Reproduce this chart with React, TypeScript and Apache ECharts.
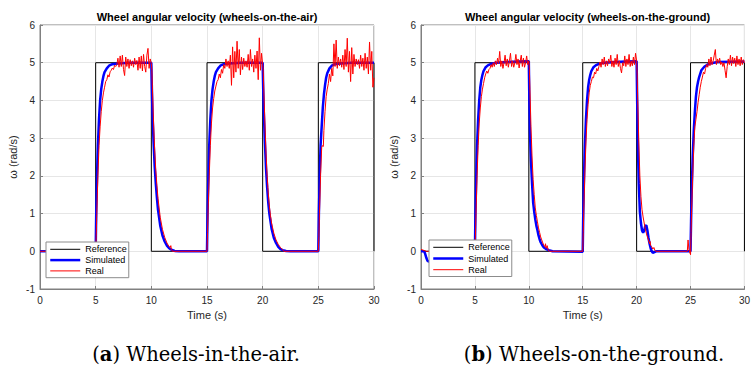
import React, { useEffect, useRef } from "react";
import * as echarts from "echarts";

// ---------- DATA ----------
const STEP = 0.1; // sampling step (s) of the noisy plateau arrays

// Reference square wave (same for both experiments)
const referenceT = [0, 5, 5, 10, 10, 15, 15, 20, 20, 25, 25, 30, 30];
const referenceV = [0, 0, 5, 5, 0, 0, 5, 5, 0, 0, 5, 5, 0];

// ---- (a) wheels-in-the-air ----
const airSim: [number, number][] = [
  [0, 0], [5, 0], [5.05, 1.0], [5.1, 1.7], [5.15, 2.3], [5.2, 2.8], [5.3, 3.5], [5.4, 4.0], [5.5, 4.3], [5.6, 4.5], [5.7, 4.65], [5.8, 4.75], [6.0, 4.85], [6.2, 4.92], [6.5, 4.96], [7.0, 4.98], [8.0, 5.0], [10, 5.0],
  [10.05, 4.3], [10.1, 3.7], [10.2, 2.9], [10.3, 2.25], [10.4, 1.8], [10.5, 1.42], [10.6, 1.1], [10.8, 0.68], [11.0, 0.42], [11.2, 0.26], [11.4, 0.15], [11.6, 0.08], [11.8, 0.04], [12.1, 0.01], [12.5, 0], [15, 0],
  [15.05, 1.0], [15.1, 1.7], [15.15, 2.3], [15.2, 2.8], [15.3, 3.5], [15.4, 4.0], [15.5, 4.3], [15.6, 4.5], [15.7, 4.65], [15.8, 4.75], [16.0, 4.85], [16.2, 4.92], [16.5, 4.96], [17.0, 4.98], [18.0, 5.0], [20, 5.0],
  [20.05, 4.3], [20.1, 3.7], [20.2, 2.9], [20.3, 2.2], [20.4, 1.7], [20.5, 1.3], [20.6, 1.0], [20.8, 0.6], [21.0, 0.36], [21.2, 0.22], [21.4, 0.12], [21.6, 0.06], [21.8, 0.03], [22.1, 0.01], [22.5, 0], [25, 0],
  [25.05, 1.0], [25.1, 1.7], [25.15, 2.3], [25.2, 2.8], [25.3, 3.3], [25.4, 3.8], [25.5, 4.15], [25.6, 4.4], [25.7, 4.6], [25.8, 4.72], [26.0, 4.85], [26.2, 4.92], [26.5, 4.96], [27.0, 4.98], [28.0, 5.0], [30, 5.0],
];

const airRealRise1: [number, number][] = [
  [0, 0], [5, 0], [5.05, 0.4], [5.1, 1.0], [5.2, 2.0], [5.3, 2.8], [5.4, 3.3], [5.5, 3.7], [5.6, 4.0], [5.7, 4.2], [5.8, 4.35], [5.9, 4.5], [6.0, 4.55], [6.1, 4.68], [6.2, 4.62], [6.3, 4.76], [6.4, 4.8], [6.5, 4.86], [6.6, 4.82], [6.7, 4.93], [6.8, 4.9],
];
const airNoise1Start = 6.9;
const airNoise1 = [
  4.95, 5.12, 4.88, 5.18, 4.9, 5.2, 4.82, 4.66, 5.15, 4.9,
  5.1, 4.85, 5.08, 4.92, 5.05, 4.88, 5.12, 4.95, 5.06, 4.8,
  5.15, 4.85, 5.18, 4.78, 5.22, 4.9, 4.75, 5.2, 5.38, 4.85,
  5.1, 4.98,
];
const airRealFall1: [number, number][] = [
  [10.05, 4.8], [10.1, 4.3], [10.2, 3.4], [10.3, 2.7], [10.4, 2.15], [10.5, 1.75], [10.6, 1.4], [10.8, 0.9], [11.0, 0.58], [11.2, 0.37], [11.4, 0.22], [11.6, 0.12], [11.7, 0.1], [11.75, 0.15], [11.8, 0.05], [11.9, 0], [15, 0],
];
const airRealRise2: [number, number][] = [
  [15.05, 0.5], [15.1, 1.1], [15.2, 2.0], [15.3, 2.8], [15.4, 3.4], [15.5, 3.8], [15.6, 4.05], [15.7, 4.25], [15.8, 4.38], [15.9, 4.5],
];
const airNoise2Start = 16.0;
const airNoise2 = [
  4.55, 4.7, 4.6, 4.82, 4.72, 4.95, 4.85, 5.1, 4.9, 5.05,
  4.85, 5.2, 4.4, 5.42, 4.6, 5.3, 4.75, 5.57, 4.85, 5.35,
  4.68, 5.15, 4.82, 5.12, 4.9, 5.05, 4.88, 5.22, 4.8, 5.35,
  4.9, 5.1, 4.75, 5.2, 4.85, 5.31, 4.55, 5.66, 4.8, 5.25,
  4.95,
];
const airRealFall2: [number, number][] = [
  [20.05, 4.8], [20.1, 4.3], [20.2, 3.4], [20.3, 2.6], [20.4, 2.0], [20.5, 1.55], [20.6, 1.2], [20.7, 0.95], [20.8, 0.75], [21.0, 0.48], [21.2, 0.3], [21.4, 0.18], [21.6, 0.1], [21.8, 0.04], [21.9, 0], [25, 0],
];
const airRealRise3: [number, number][] = [
  [25.05, 0.4], [25.1, 1.0], [25.2, 2.0], [25.3, 2.75], [25.35, 2.8], [25.45, 2.78], [25.5, 3.2], [25.6, 3.7], [25.7, 4.1], [25.8, 4.3],
];
const airNoise3Start = 25.9;
const airNoise3 = [
  4.45, 4.7, 4.5, 4.85, 4.65, 5.5, 4.9, 5.6, 4.85, 5.15,
  4.92, 5.1, 4.88, 5.2, 4.82, 5.35, 4.9, 5.65, 4.75, 5.3,
  4.5, 5.4, 4.7, 5.22, 4.9, 5.1, 4.95, 5.08, 4.85, 5.2,
  4.9, 5.12, 4.8, 5.25, 4.85, 5.15, 4.7, 5.55, 4.8, 5.3,
  4.35, 4.6,
];

// ---- (b) wheels-on-the-ground ----
const groundSim: [number, number][] = [
  [0, 0], [0.3, 0], [0.4, -0.08], [0.5, -0.18], [0.6, -0.25], [0.7, -0.27], [1.0, -0.25], [1.5, -0.15], [2.5, -0.05], [3.5, 0], [5, 0],
  [5.05, 1.0], [5.1, 1.7], [5.15, 2.3], [5.2, 2.8], [5.3, 3.5], [5.4, 4.0], [5.5, 4.35], [5.6, 4.55], [5.7, 4.68], [5.8, 4.78], [6.0, 4.88], [6.2, 4.93], [6.5, 4.97], [7.0, 5.0], [8.0, 5.02], [9.0, 5.03], [10, 5.04],
  [10.05, 4.0], [10.1, 3.2], [10.2, 2.4], [10.3, 1.8], [10.4, 1.3], [10.5, 1.05], [10.6, 0.85], [10.7, 0.68], [10.8, 0.56], [10.9, 0.42], [11.0, 0.32], [11.1, 0.24], [11.25, 0.16], [11.4, 0.1], [11.6, 0.06], [11.85, 0.03], [12.2, 0], [15, -0.01],
  [15.05, 1.0], [15.1, 1.7], [15.15, 2.3], [15.2, 2.8], [15.3, 3.5], [15.4, 4.0], [15.5, 4.35], [15.6, 4.55], [15.7, 4.68], [15.8, 4.78], [16.0, 4.88], [16.2, 4.93], [16.5, 4.97], [17.0, 5.0], [18.0, 5.02], [19.0, 5.03], [20, 5.04],
  [20.05, 4.0], [20.1, 3.1], [20.15, 2.4], [20.2, 1.8], [20.3, 1.05], [20.4, 0.75], [20.5, 0.55], [20.6, 0.49], [20.7, 0.55], [20.8, 0.67], [20.9, 0.69], [21.0, 0.55], [21.1, 0.36], [21.2, 0.2], [21.3, 0.08], [21.4, 0], [21.5, -0.04], [21.6, -0.03], [21.8, 0], [25, 0],
  [25.05, 0.8], [25.1, 1.5], [25.2, 2.5], [25.3, 3.2], [25.4, 3.7], [25.5, 4.1], [25.6, 4.35], [25.7, 4.5], [25.8, 4.62], [26.0, 4.8], [26.3, 4.9], [26.7, 4.97], [27.5, 5.02], [30, 5.03],
];

const groundRealRise1: [number, number][] = [
  [0, 0.05], [0.2, 0.03], [0.5, 0], [5, 0], [5.05, 0.4], [5.1, 1.0], [5.2, 2.0], [5.3, 2.8], [5.4, 3.4], [5.5, 3.8], [5.6, 4.1], [5.7, 4.3], [5.8, 4.45], [5.9, 4.6], [6.0, 4.7], [6.1, 4.78], [6.2, 4.72], [6.3, 4.82],
];
const groundNoise1Start = 6.4;
const groundNoise1 = [
  4.85, 4.95, 4.88, 5.0, 4.9, 5.05, 4.95, 5.12, 4.98, 5.3,
  4.9, 5.05, 4.85, 5.0, 5.2, 4.92, 5.1, 4.88, 5.05, 5.25,
  4.9, 5.05, 4.88, 5.0, 5.22, 4.95, 5.1, 4.86, 5.05, 5.2,
  4.9, 5.12, 4.88, 5.0, 5.18, 4.95, 5.05,
];
const groundRealFall1: [number, number][] = [
  [10.05, 4.85], [10.1, 4.3], [10.2, 3.3], [10.3, 2.5], [10.4, 1.9], [10.5, 1.5], [10.6, 1.15], [10.7, 0.95], [10.8, 0.78], [10.9, 0.62], [11.0, 0.5], [11.1, 0.38], [11.2, 0.3], [11.3, 0.22], [11.4, 0.16], [11.5, 0.12], [11.55, 0.2], [11.6, 0.08], [11.7, 0.15], [11.8, 0.03], [11.9, 0], [15, 0],
];
const groundRealRise2: [number, number][] = [
  [15.05, 0.5], [15.1, 1.1], [15.2, 2.1], [15.3, 2.9], [15.4, 3.5], [15.5, 3.9], [15.6, 4.2], [15.7, 4.4], [15.8, 4.5], [15.9, 4.62], [16.0, 4.6], [16.1, 4.75], [16.2, 4.7], [16.3, 4.85], [16.4, 4.78],
];
const groundNoise2Start = 16.5;
const groundNoise2 = [
  4.9, 5.02, 4.88, 5.1, 4.95, 5.15, 4.9, 5.05, 4.92, 5.1,
  5.0, 5.2, 4.9, 5.05, 4.88, 5.12, 4.95, 5.22, 4.9, 5.05,
  4.85, 4.73, 5.0, 4.92, 5.18, 4.9, 5.1, 4.95, 5.22, 4.9,
  5.05, 4.92, 5.15, 4.95, 5.25, 5.05,
];
const groundRealFall2: [number, number][] = [
  [20.05, 4.7], [20.1, 4.0], [20.2, 2.9], [20.3, 2.0], [20.4, 1.45], [20.5, 1.1], [20.6, 0.91], [20.7, 0.75], [20.8, 0.6], [20.9, 0.48], [21.0, 0.38], [21.1, 0.3], [21.2, 0.2], [21.25, 0.26], [21.3, 0.15], [21.4, 0.12], [21.5, 0.06], [21.6, 0.1], [21.7, 0.02], [21.8, 0], [24.7, 0], [24.77, 0.3], [24.85, 0.05], [24.95, -0.05], [25.0, -0.09],
];
const groundRealRise3: [number, number][] = [
  [25.05, 0.5], [25.1, 1.1], [25.2, 2.0], [25.3, 2.8], [25.4, 3.3], [25.5, 3.5], [25.6, 3.7], [25.7, 3.95], [25.8, 4.15], [25.9, 4.35], [26.0, 4.5], [26.1, 4.62], [26.2, 4.75], [26.3, 4.7],
];
const groundNoise3Start = 26.4;
const groundNoise3 = [
  4.85, 4.95, 4.88, 5.1, 4.92, 5.15, 4.95, 5.05, 5.2, 5.35,
  4.95, 5.1, 5.0, 5.12, 4.95, 5.02, 4.9, 5.0, 4.8, 4.6,
  4.9, 5.1, 4.95, 5.2, 4.92, 5.15, 4.98, 5.12, 4.9, 5.18,
  4.95, 5.1, 4.92, 5.15, 4.95, 5.08, 5.0,
];

const seriesNames = ["Reference", "Simulated", "Real"];
const seriesColors = ["#000000", "#0000ff", "#ff0000"];
const seriesWidths = [1, 2.5, 1];
const titles = [
  "Wheel angular velocity (wheels-on-the-air)",
  "Wheel angular velocity (wheels-on-the-ground)",
];
const captionLetters = ["a", "b"];
const captionTexts = [" Wheels-in-the-air.", " Wheels-on-the-ground."];
const xAxisName = "Time (s)";
const yAxisName = "ω (rad/s)";

// ---------- helpers ----------
const pairs = (t: number[], v: number[]) => t.map((x, i) => [x, v[i]]);
const noise = (start: number, values: number[]) =>
  values.map((v, i) => [Math.round((start + i * STEP) * 100) / 100, v]);

const airReal = [
  ...airRealRise1, ...noise(airNoise1Start, airNoise1), ...airRealFall1,
  ...airRealRise2, ...noise(airNoise2Start, airNoise2), ...airRealFall2,
  ...airRealRise3, ...noise(airNoise3Start, airNoise3),
];
const groundReal = [
  ...groundRealRise1, ...noise(groundNoise1Start, groundNoise1), ...groundRealFall1,
  ...groundRealRise2, ...noise(groundNoise2Start, groundNoise2), ...groundRealFall2,
  ...groundRealRise3, ...noise(groundNoise3Start, groundNoise3),
];

const FONT = "'Liberation Sans', Arial, Helvetica, sans-serif";
const SERIF = "'DejaVu Serif', serif";
const AXIS_GREY = "#808080";
const TEXT = "#262626";

export default function App() {
  const ref = useRef<HTMLDivElement>(null);

  useEffect(() => {
    if (!ref.current) return;
    const chart = echarts.init(ref.current, undefined, { renderer: "svg" });

    const grids = [
      { left: 40, top: 25, width: 334, height: 264 },
      { left: 421, top: 25, width: 333, height: 264 },
    ];

    const xAxis = grids.map((_, i) => ({
      gridIndex: i,
      type: "value",
      min: 0,
      max: 30,
      interval: 5,
      axisLine: { show: true, onZero: false, lineStyle: { color: AXIS_GREY, width: 1 } },
      axisTick: { show: true, inside: true, length: 3, lineStyle: { color: AXIS_GREY } },
      axisLabel: { color: TEXT, fontSize: 10, fontFamily: FONT, margin: 6 },
      splitLine: { show: true, lineStyle: { color: "#e6e6e6", width: 1 } },
      name: xAxisName,
      nameLocation: "middle",
      nameGap: 19,
      nameTextStyle: { color: TEXT, fontSize: 11, fontFamily: FONT },
    }));

    const yAxis = grids.map((_, i) => ({
      gridIndex: i,
      type: "value",
      min: -1,
      max: 6,
      interval: 1,
      axisLine: { show: true, onZero: false, lineStyle: { color: AXIS_GREY, width: 1 } },
      axisTick: { show: true, inside: true, length: 3, lineStyle: { color: AXIS_GREY } },
      axisLabel: { color: TEXT, fontSize: 10, fontFamily: FONT, margin: 5 },
      splitLine: { show: true, lineStyle: { color: "#e6e6e6", width: 1 } },
      name: yAxisName,
      nameLocation: "middle",
      nameGap: 22,
      nameRotate: 90,
      nameTextStyle: { color: TEXT, fontSize: 11, fontFamily: FONT },
    }));

    const datasets = [
      { sim: airSim, real: airReal },
      { sim: groundSim, real: groundReal },
    ];

    const series: any[] = [];
    datasets.forEach((d, i) => {
      const datas = [pairs(referenceT, referenceV), d.sim, d.real];
      seriesNames.forEach((name, k) => {
        series.push({
          name, type: "line", xAxisIndex: i, yAxisIndex: i,
          data: datas[k], symbol: "none", showSymbol: false,
          lineStyle: { color: seriesColors[k], width: seriesWidths[k] },
          itemStyle: { color: seriesColors[k] }, z: 2 + k,
        });
      });
    });

    const legendPos = [
      { left: 46, top: 242 },
      { left: 429, top: 240 },
    ];
    const legend = legendPos.map((p, li) => ({
      data: seriesNames.map((name, k) => ({
        name,
        lineStyle: { color: seriesColors[k], width: seriesWidths[k] },
        itemStyle: { opacity: 0 },
      })),
      orient: "vertical",
      left: p.left,
      top: p.top,
      padding: li === 0 ? [2.5, 2, 2, 3] : [2.5, 2, 2, 3],
      itemWidth: 30,
      itemHeight: 12,
      itemGap: li === 0 ? 1.2 : 1.6,
      backgroundColor: "#fff",
      borderColor: "#8c8c8c",
      borderWidth: 1,
      borderRadius: 0,
      selectedMode: false,
      itemStyle: { opacity: 0 },
      textStyle: { fontSize: 9, color: "#000", fontFamily: FONT },
      z: 10,
    }));

    const title = titles.map((t, i) => ({
      text: t,
      left: grids[i].left + grids[i].width / 2,
      top: 11,
      textAlign: "center",
      padding: 0,
      textStyle: { fontSize: 11, fontWeight: "bold", color: "#000", fontFamily: FONT },
    }));

    const captionX = [196, 594];
    const graphic = captionX.map((x, i) => ({
      type: "text",
      x,
      y: 354,
      style: {
        text: "({b|" + captionLetters[i] + "})" + captionTexts[i],
        fontSize: 19.5,
        fontFamily: SERIF,
        fill: "#000",
        align: "center",
        verticalAlign: "middle",
        rich: {
          b: { fontWeight: "bold", fontSize: 19.5, fontFamily: SERIF, fill: "#000" },
        },
      },
    }));

    chart.setOption({
      animation: false,
      backgroundColor: "#fff",
      textStyle: { fontFamily: FONT },
      title,
      grid: grids.map((g) => ({ ...g, show: true, borderColor: AXIS_GREY, borderWidth: 1, backgroundColor: "#fff" })),
      xAxis,
      yAxis,
      legend,
      series,
      graphic,
    });

    return () => chart.dispose();
  }, []);

  return (
    <div
      ref={ref}
      style={{ position: "fixed", left: 0, top: 0, width: 753, height: 368, background: "#fff" }}
    />
  );
}
